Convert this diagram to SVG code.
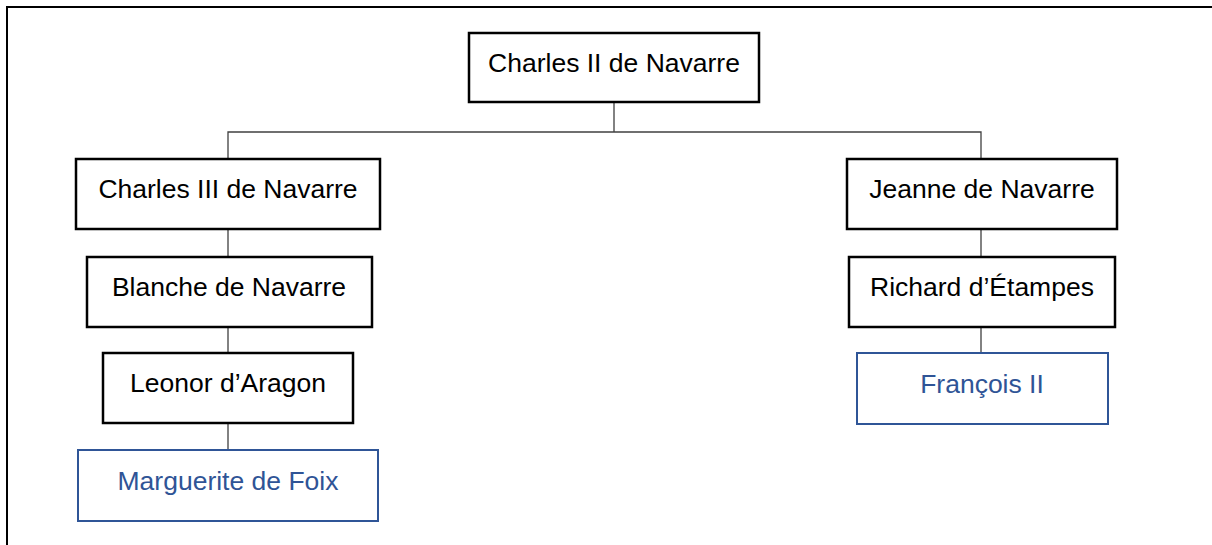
<svg xmlns="http://www.w3.org/2000/svg" width="1212" height="545" viewBox="0 0 1212 545">
<style>
.box{fill:#fff;stroke:#000;stroke-width:2.5}
.leaf{fill:#fff;stroke:#2F5597;stroke-width:2}
.t{font-family:"Liberation Sans",Arial,sans-serif;font-size:26.5px;text-anchor:middle;fill:#000}
.tb{fill:#2F5496}
.c{stroke:#404040;stroke-width:1.3;fill:none}
</style>
<rect width="1212" height="545" fill="#fff"/>
<path d="M7 545V7H1212" fill="none" stroke="#000" stroke-width="2"/>
<g id="connectors">
<path class="c" d="M614 102V132M228 159V132H981V159"/>
<path class="c" d="M228 229V257M228 327V353M228 423V450"/>
<path class="c" d="M981 229V257M981 327V353"/>
</g>
<g id="n1"><rect class="box" x="469" y="33" width="290" height="69"/><text class="t" x="614" y="72">Charles II de Navarre</text></g>
<g id="n2"><rect class="box" x="76" y="159" width="304" height="70"/><text class="t" x="228" y="198">Charles III de Navarre</text></g>
<g id="n3"><rect class="box" x="87" y="257" width="285" height="70"/><text class="t" x="229" y="296">Blanche de Navarre</text></g>
<g id="n4"><rect class="box" x="103" y="353" width="250" height="70"/><text class="t" x="228" y="392">Leonor d’Aragon</text></g>
<g id="n5"><rect class="leaf" x="78" y="450" width="300" height="71"/><text class="t tb" x="228" y="490">Marguerite de Foix</text></g>
<g id="n6"><rect class="box" x="847" y="159" width="270" height="70"/><text class="t" x="982" y="198">Jeanne de Navarre</text></g>
<g id="n7"><rect class="box" x="849" y="257" width="266" height="70"/><text class="t" x="982" y="296">Richard d’Étampes</text></g>
<g id="n8"><rect class="leaf" x="857" y="353" width="251" height="71"/><text class="t tb" x="982" y="393">François II</text></g>
</svg>
